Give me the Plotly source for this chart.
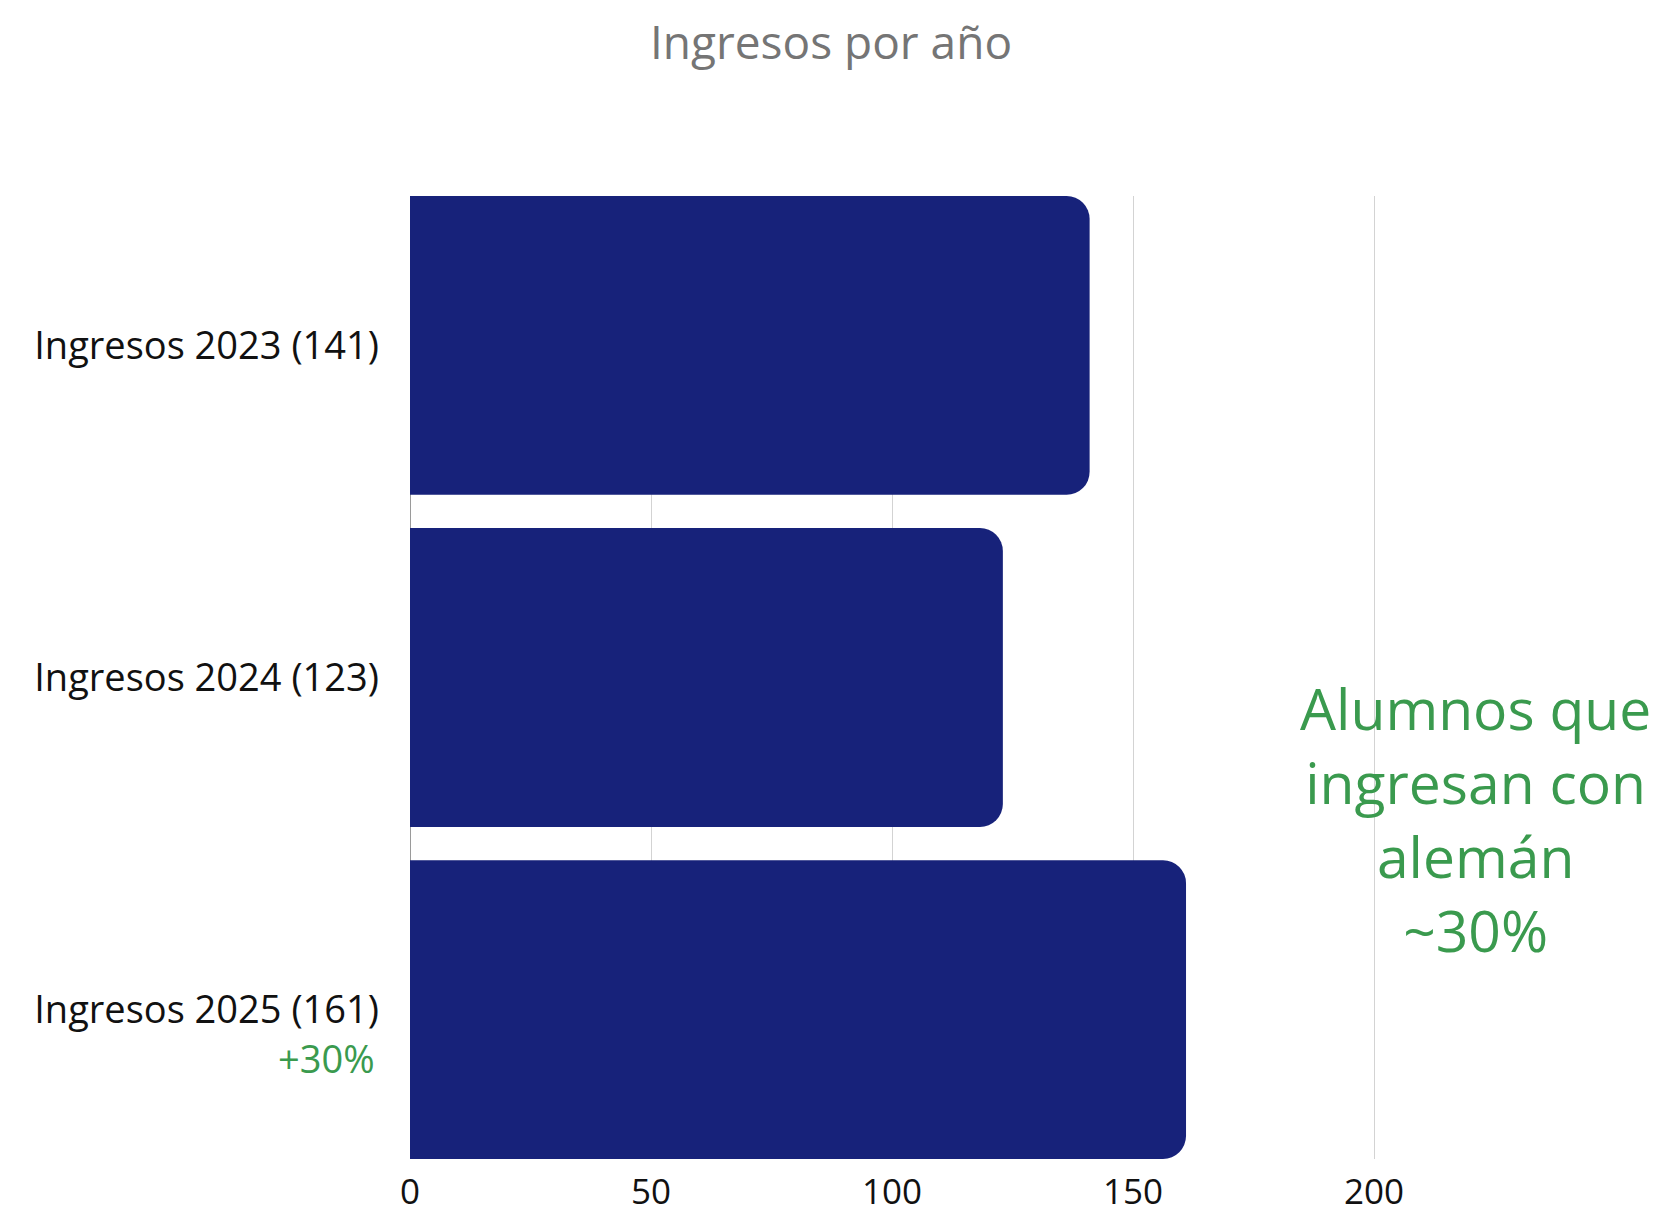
import plotly.graph_objects as go

categories = ["Ingresos 2023 (141)", "Ingresos 2024 (123)", "Ingresos 2025 (161)"]
values = [141, 123, 161]
x_ticks = [0, 50, 100, 150, 200]
title_text = "Ingresos por año"
note_text = "Alumnos que<br>ingresan con<br>alemán<br>~30%"
growth_text = "+30%"

FONT = "Open Sans"
NAVY = "#17227A"
GREEN = "#3A9A4E"

W, H = 1671, 1220
ml, mr, mt, mb = 402, 64, 188, 69
plot_w = W - ml - mr
plot_h = H - mt - mb

fig = go.Figure(go.Bar(
    x=values, y=categories, orientation="h",
    marker=dict(color=NAVY, line=dict(width=0)),
    width=0.9,
    hoverinfo="x+y",
))

fig.update_layout(
    width=W, height=H,
    margin=dict(l=ml, r=mr, t=mt, b=mb),
    paper_bgcolor="white", plot_bgcolor="white",
    barcornerradius=23,
    showlegend=False,
    font=dict(family=FONT, color="#111111"),
    title=dict(text=title_text, x=(831 - 8) / W, xanchor="center", y=1 - 35 / H, yanchor="middle",
               yref="container", font=dict(family=FONT, size=46, color="#757575")),
    xaxis=dict(range=[0, 250], tickvals=x_ticks, showgrid=True, gridcolor="#D3D3D3", gridwidth=1,
               zeroline=True, zerolinecolor="#9A9A9A", zerolinewidth=1,
               tickfont=dict(family=FONT, size=35, color="#111111"), ticks="", showline=False,
               ticklabelstandoff=9),
    yaxis=dict(categoryorder="array", categoryarray=categories, range=[2.45, -0.45],
               tickfont=dict(family=FONT, size=38, color="#111111"), ticks="",
               ticklabelstandoff=30, showgrid=False, zeroline=False, showline=False),
)

fig.add_annotation(text=note_text, xref="x", yref="paper", x=221, y=(1151 - 811) / plot_h,
                   xanchor="center", yanchor="middle", showarrow=False, align="center",
                   font=dict(family=FONT, size=57, color=GREEN))
fig.add_annotation(text=growth_text, xref="paper", yref="paper", x=-33 / plot_w, y=(1151 - 1050) / plot_h,
                   xanchor="right", yanchor="middle", showarrow=False,
                   font=dict(family=FONT, size=38, color=GREEN))

fig.write_html("out.html")
